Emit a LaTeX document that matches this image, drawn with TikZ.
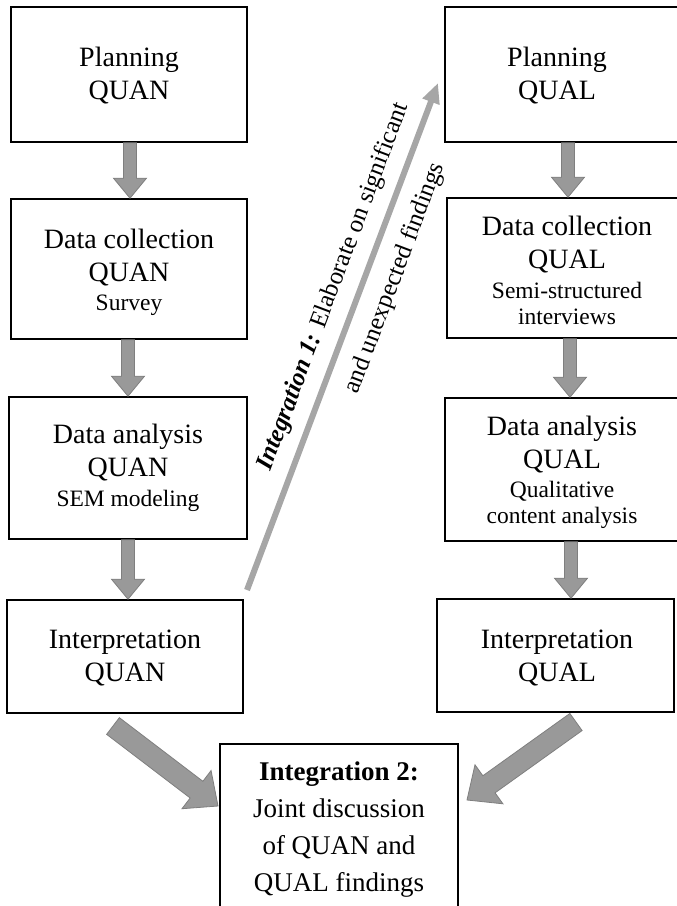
\documentclass[tikz,border=0pt]{standalone}
\usepackage{fontspec}
\setmainfont{Liberation Serif}
\usetikzlibrary{calc,arrows.meta}
\definecolor{arrfill}{HTML}{999999}
\definecolor{arrline}{HTML}{7F7F7F}
\definecolor{diagarr}{HTML}{A6A6A6}
\tikzset{
  boxnode/.style={draw=black, line width=1.6pt, rectangle, inner sep=0pt},
  maintxt/.style={align=center, font=\fontsize{28}{33}\selectfont, inner sep=0pt},
  barrow/.style={fill=arrfill, draw=arrline, line width=0.8pt, line join=miter},
  diagtxt/.style={sloped, inner sep=0pt, font=\fontsize{25}{29}\selectfont},
}
\newcommand\subtxt{\fontsize{23.5}{26}\selectfont}
\newcommand\blockarr[5]{%
  \path (#2) coordinate (ba-e) (#1) coordinate (ba-s);
  \path ($(ba-e)!#5!(ba-s)$) coordinate (ba-n);
  \draw[barrow] ($(ba-s)!#3!90:(ba-e)$) -- ($(ba-n)!#3!90:(ba-e)$) -- ($(ba-n)!#4!90:(ba-e)$) -- (ba-e) -- ($(ba-n)!#4!-90:(ba-e)$) -- ($(ba-n)!#3!-90:(ba-e)$) -- ($(ba-s)!#3!-90:(ba-e)$) -- cycle;
}
\begin{document}
\begin{tikzpicture}[x=1pt,y=-1pt]
\useasboundingbox (0,0) rectangle (677,906);
% left column
\node[boxnode, minimum width=236pt, minimum height=135pt] (pq) at (129,74.5) {};
\node[maintxt] (pqt) at (129,76) {Planning\\QUAN};
\node[boxnode, minimum width=236pt, minimum height=140pt] (dcq) at (129,269) {};
\node[maintxt] (dcqt) at (129,272) {Data collection\\QUAN\\[-4pt]\subtxt Survey};
\node[boxnode, minimum width=238pt, minimum height=142pt] (daq) at (128,468) {};
\node[maintxt] (daqt) at (128,468) {Data analysis\\QUAN\\[-3pt]\subtxt SEM modeling};
\node[boxnode, minimum width=236pt, minimum height=113pt] (iq) at (125,656.5) {};
\node[maintxt] (iqt) at (125,657.5) {Interpretation\\QUAN};
% right column
\node[boxnode, minimum width=250pt, minimum height=135pt] (pl) at (570,74.5) {};
\node[maintxt] (plt) at (557,76) {Planning\\QUAL};
\node[boxnode, minimum width=250pt, minimum height=140pt] (dcl) at (572,268) {};
\node[maintxt] (dclt) at (567,270) {Data collection\\QUAL\\[-3pt]\subtxt Semi-structured\\[-7pt]\subtxt interviews};
\node[boxnode, minimum width=250pt, minimum height=143pt] (dal) at (570,469.5) {};
\node[maintxt] (dalt) at (562,472) {Data analysis\\QUAL\\[-4pt]\subtxt Qualitative\\[-7pt]\subtxt content analysis};
\node[boxnode, minimum width=237pt, minimum height=113pt] (il) at (555.5,655.5) {};
\node[maintxt] (ilt) at (557,657.5) {Interpretation\\QUAL};
% bottom box
\node[boxnode, minimum width=238pt, minimum height=175pt] (ib) at (339,831.5) {};
\node[maintxt, font=\fontsize{27}{37}\selectfont, anchor=north] (ibt) at (339,762) {\textbf{Integration 2:}\\Joint discussion\\of QUAN and\\QUAL findings};
% vertical block arrows
\coordinate (a1s) at (pq.south -| 130,0);
\coordinate (a1e) at (dcq.north -| 130,0);
\blockarr{a1s}{a1e}{6.5pt}{16.5pt}{20pt}
\coordinate (a2s) at (dcq.south -| 128,0);
\coordinate (a2e) at (daq.north -| 128,0);
\blockarr{a2s}{a2e}{6.5pt}{16.5pt}{20pt}
\coordinate (a3s) at (daq.south -| 128,0);
\coordinate (a3e) at (iq.north -| 128,0);
\blockarr{a3s}{a3e}{6.5pt}{16.5pt}{20pt}
\coordinate (b1s) at (pl.south -| 568,0);
\coordinate (b1e) at (dcl.north -| 568,0);
\blockarr{b1s}{b1e}{6.5pt}{16.5pt}{20pt}
\coordinate (b2s) at (dcl.south -| 570,0);
\coordinate (b2e) at (dal.north -| 570,0);
\blockarr{b2s}{b2e}{6.5pt}{16.5pt}{20pt}
\coordinate (b3s) at (dal.south -| 571,0);
\coordinate (b3e) at (il.north -| 571,0);
\blockarr{b3s}{b3e}{6.5pt}{16.5pt}{20pt}
% big diagonal block arrows
\coordinate (c1s) at (113,726);
\coordinate (c1e) at (218,806);
\blockarr{c1s}{c1e}{10.5pt}{24pt}{27pt}
\coordinate (c2s) at (576,722);
\coordinate (c2e) at (467,800);
\blockarr{c2s}{c2e}{10.5pt}{24pt}{27pt}
% integration 1 arrow
\coordinate (d1) at (247,590);
\coordinate (d2) at (438,83);
\draw[diagarr, line width=6pt, -{Triangle[width=17pt,length=20pt]}] (d1) -- (d2);
\path (d1) -- (d2)
  node[diagtxt, pos=0.58, above=14pt] (it1) {\textbf{\textit{Integration 1:}} Elaborate on significant}
  node[diagtxt, pos=0.635, below=17pt] (it2) {and unexpected findings};
\end{tikzpicture}
\end{document}
